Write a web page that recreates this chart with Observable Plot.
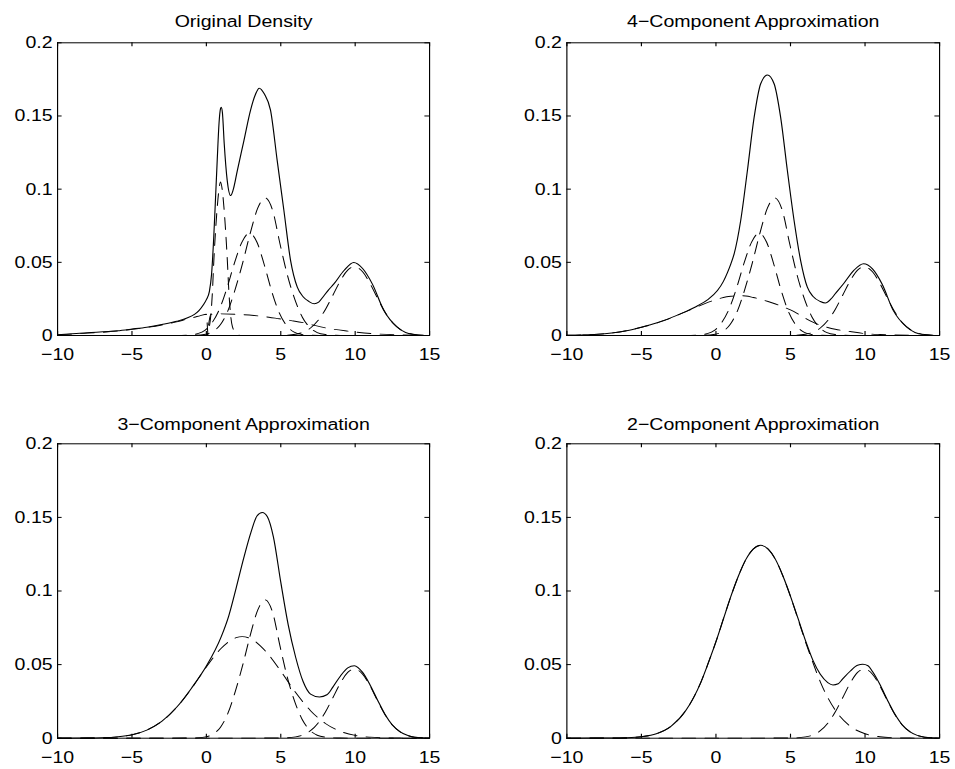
<!DOCTYPE html>
<html><head><meta charset="utf-8">
<script src="https://cdn.jsdelivr.net/npm/d3@7"></script>
<script src="https://cdn.jsdelivr.net/npm/@observablehq/plot@0.6"></script>
<style>
html,body{margin:0;padding:0;background:#fff;}
#fig{position:relative;width:955px;height:769px;overflow:hidden;background:#fff;}
.panel{position:absolute;}
.panel svg{display:block;transform-origin:0 0;transform:scaleX(1.15);}
</style></head><body><div id="fig"></div>
<script>
// ---------- axis ticks ----------
const xTicks = [-10, -5, 0, 5, 10, 15];
const yTicks = [0, 0.05, 0.1, 0.15, 0.2];
const titles = ["Original Density", "4\u2212Component Approximation", "3\u2212Component Approximation", "2\u2212Component Approximation"];

// ---------- Original Density ----------
const origSolid = [[-10,0.0005],[-8,0.0018],[-6,0.0032],[-5,0.0044],[-4,0.0057],[-3,0.0075],[-2,0.0097],[-1.3,0.012],[-0.8,0.0145],[-0.5,0.017],[-0.2,0.021],[0,0.0245],[0.2,0.03],[0.35,0.042],[0.5,0.068],[0.62,0.095],[0.73,0.12],[0.85,0.145],[0.95,0.155],[1.0,0.156],[1.08,0.152],[1.2,0.131],[1.4,0.106],[1.63,0.0956],[1.8,0.0995],[2.08,0.1127],[2.52,0.133],[2.97,0.154],[3.31,0.165],[3.55,0.169],[3.9,0.165],[4.31,0.154],[4.76,0.1195],[5.21,0.0854],[5.66,0.0512],[6.11,0.033],[6.5,0.0265],[6.9,0.0232],[7.25,0.0217],[7.55,0.0228],[7.85,0.0265],[8.2,0.031],[8.57,0.0353],[9.25,0.0444],[9.9,0.0499],[10.5,0.0458],[11.15,0.0353],[11.93,0.0171],[12.83,0.0057],[13.95,0.0006],[15,0]];
const leftTail = [[-10,0.0004],[-8,0.0016],[-6,0.003],[-5,0.0042],[-4,0.0055],[-3,0.0072],[-2,0.0093],[-1.3,0.0112],[-0.8,0.0125],[-0.4,0.0136],[0,0.0145],[0.12,0],[15,0]];
const rightTail = [[-10,0],[0,0],[0.3,0.0145],[1,0.0148],[2,0.0145],[3.2,0.0137],[4.2,0.0125],[4.9,0.0114],[5.7,0.0102],[6.5,0.0088],[7.1,0.0073],[8,0.0052],[9.5,0.003],[11.3,0.0012],[13,0.0004],[15,0.0001]];
const spike = [[-10,0],[0,0],[0.2,0.006],[0.3,0.014],[0.4,0.0285],[0.5,0.051],[0.62,0.072],[0.73,0.0876],[0.85,0.1],[0.955,0.105],[1.06,0.1],[1.18,0.0876],[1.29,0.072],[1.41,0.051],[1.52,0.0285],[1.62,0.015],[1.75,0.006],[2.0,0.0015],[2.3,0],[15,0]];
const comp3 = [[-10,0],[-2,0.0001],[-1.1,0.0004],[-0.6,0.0012],[-0.1,0.0035],[0.4,0.009],[0.9,0.0185],[1.4,0.033],[1.9,0.05],[2.4,0.064],[2.9,0.07],[3.4,0.0637],[3.9,0.048],[4.4,0.0299],[4.9,0.0154],[5.4,0.0066],[5.9,0.0023],[6.4,0.0007],[6.9,0.0002],[8,0],[15,0]];
const comp4 = [[-10,0],[-1,0.0001],[-0.05,0.0009],[0.45,0.0028],[0.95,0.0075],[1.45,0.017],[1.95,0.032],[2.45,0.05],[2.95,0.07],[3.45,0.087],[3.95,0.094],[4.45,0.0855],[4.95,0.0625],[5.45,0.041],[5.95,0.0245],[6.45,0.0125],[6.95,0.0055],[7.45,0.002],[8,0.0007],[9,0.0001],[15,0]];
const comp10 = [[-10,0],[5,0.0001],[6,0.0009],[6.5,0.0022],[7,0.0051],[7.5,0.0102],[8,0.0178],[8.5,0.0275],[9,0.0373],[9.5,0.0447],[9.95,0.047],[10.5,0.0435],[11,0.0355],[11.5,0.0255],[12,0.0161],[12.5,0.0089],[13,0.0044],[13.5,0.0019],[14,0.0007],[15,0.0001]];

// ---------- 4-Component Approximation ----------
const approx4Solid = [[-10,0.0002],[-9,0.0004],[-8,0.0008],[-7,0.0017],[-6,0.0033],[-5,0.0057],[-4,0.0085],[-3,0.0122],[-2,0.0165],[-1.2,0.0205],[-0.57,0.0244],[0.1,0.0307],[0.5,0.037],[0.77,0.043],[1.0,0.049],[1.22,0.0558],[1.66,0.0786],[2.11,0.1127],[2.56,0.149],[3.0,0.172],[3.45,0.178],[3.9,0.172],[4.34,0.149],[4.79,0.1127],[5.24,0.0786],[5.68,0.0512],[6.13,0.033],[6.5,0.0268],[7.0,0.0232],[7.34,0.0222],[7.7,0.0248],[8.0,0.0285],[8.57,0.0355],[9.25,0.0445],[9.9,0.049],[10.5,0.0455],[11.15,0.035],[11.9,0.017],[12.8,0.0057],[13.9,0.0006],[15,0]];
const broad4 = [[-10,0.0002],[-9,0.0004],[-8,0.0008],[-7,0.0017],[-6,0.0033],[-5,0.0056],[-4,0.0084],[-3,0.012],[-2.5,0.0143],[-2,0.0163],[-1.2,0.0198],[-0.5,0.0228],[0,0.0245],[0.5,0.026],[1,0.0268],[1.5,0.0272],[2,0.027],[2.5,0.026],[3,0.0247],[3.5,0.0232],[4,0.0215],[4.5,0.0196],[5,0.0175],[5.5,0.0148],[6,0.0118],[6.5,0.0091],[7,0.007],[7.5,0.0055],[8,0.0043],[9,0.0027],[10,0.0013],[11,0.0007],[12,0.0004],[13.5,0.0001],[15,0]];

// ---------- 3-Component Approximation ----------
const approx3Solid = [[-10,0],[-8,0.0001],[-7,0.0003],[-6,0.0009],[-5,0.0023],[-4,0.0055],[-3,0.0114],[-2,0.021],[-1,0.034],[0,0.049],[1,0.069],[1.5,0.083],[2,0.102],[2.5,0.122],[3,0.14],[3.4,0.151],[3.76,0.1534],[4.1,0.1505],[4.5,0.137],[5,0.106],[5.5,0.077],[6,0.055],[6.5,0.0385],[7,0.03],[7.6,0.028],[8.1,0.0295],[8.5,0.0347],[9,0.0421],[9.5,0.0478],[9.95,0.0493],[10.5,0.0447],[11,0.0362],[11.5,0.026],[12,0.0163],[12.5,0.009],[13,0.0045],[13.5,0.002],[14,0.0007],[15,0.0001]];
const broad3 = [[-10,0],[-8,0.0001],[-7,0.0003],[-6,0.0009],[-5,0.0023],[-4,0.0055],[-3,0.0114],[-2,0.0209],[-1,0.0338],[0,0.0484],[1,0.0611],[2,0.0683],[2.4,0.069],[3,0.0675],[4,0.0589],[5,0.0455],[6,0.031],[7,0.0187],[8,0.01],[9,0.0047],[10,0.0019],[11,0.0007],[12,0.0002],[13,0.0001],[15,0]];

// ---------- 2-Component Approximation ----------
const approx2Solid = [[-10,0],[-8,0.0001],[-7,0.0001],[-6,0.0003],[-5,0.001],[-4,0.003],[-3,0.0082],[-2,0.0191],[-1,0.0383],[-0.5,0.0515],[0,0.0656],[0.5,0.081],[1,0.0963],[1.5,0.11],[2,0.1213],[2.5,0.1285],[3,0.131],[3.5,0.1285],[4,0.1213],[4.5,0.11],[5,0.0964],[5.5,0.0815],[6,0.0665],[6.5,0.053],[7,0.0434],[7.5,0.0378],[7.85,0.0362],[8.2,0.037],[8.5,0.0403],[9,0.0455],[9.5,0.0496],[9.85,0.0502],[10.2,0.0492],[10.5,0.0453],[11,0.0365],[11.5,0.026],[12,0.0164],[12.5,0.009],[13,0.0045],[13.5,0.0019],[14,0.0007],[15,0.0001]];
const big2 = [[-10,0],[-8,0.0001],[-7,0.0001],[-6,0.0003],[-5,0.001],[-4,0.003],[-3,0.0082],[-2,0.0191],[-1,0.0383],[-0.5,0.0515],[0,0.0656],[0.5,0.081],[1,0.0963],[1.5,0.11],[2,0.1213],[2.5,0.1285],[3,0.131],[3.5,0.1285],[4,0.1213],[4.5,0.11],[5,0.0963],[5.5,0.081],[6,0.0656],[6.5,0.0515],[7,0.0383],[8,0.0191],[9,0.0082],[10,0.003],[11,0.001],[12,0.0003],[13,0.0001],[15,0]];

// ---------- layout ----------
const SX = 1.15; // horizontal stretch of the reference
const panels = [
  {title: titles[0], left: 0,   top: 0,   width: 416, height: 385, ml: 57/SX, mr: 416 - 429/SX, mt: 42.3, mb: 385 - 335, tdy: -16.3, solid: origSolid, dashed: [leftTail, rightTail, spike, comp3, comp4, comp10]},
  {title: titles[1], left: 478, top: 0,   width: 414, height: 385, ml: 88.3/SX, mr: 414 - 461/SX, mt: 42.3, mb: 385 - 335, tdy: -16.3, solid: approx4Solid, dashed: [broad4, comp3, comp4, comp10]},
  {title: titles[2], left: 0,   top: 385, width: 416, height: 384, ml: 57/SX, mr: 416 - 429/SX, mt: 58.3, mb: 384 - 352.7, tdy: -14.3, solid: approx3Solid, dashed: [broad3, comp4, comp10]},
  {title: titles[3], left: 478, top: 385, width: 414, height: 384, ml: 88.3/SX, mr: 414 - 461/SX, mt: 58.3, mb: 384 - 352.7, tdy: -14.3, solid: approx2Solid, dashed: [big2, comp10]}
];

const fig = document.getElementById("fig");
for (const p of panels) {
  const fw = p.width - p.ml - p.mr;
  const fh = p.height - p.mt - p.mb;
  const marks = [];
  for (const d of p.dashed) {
    marks.push(Plot.line(d, {x: v => v[0], y: v => v[1], curve: "monotone-x", stroke: "black", strokeWidth: 0.9, strokeDasharray: "12,8"}));
  }
  marks.push(Plot.line(p.solid, {x: v => v[0], y: v => v[1], curve: "monotone-x", stroke: "black", strokeWidth: 1}));
  marks.push(Plot.frame({stroke: "black", strokeWidth: 1}));
  marks.push(Plot.tickX(xTicks, {x: v => v, insetTop: fh - 4, stroke: "black"}));
  marks.push(Plot.tickX(xTicks, {x: v => v, insetBottom: fh - 4, stroke: "black"}));
  marks.push(Plot.tickY(yTicks, {y: v => v, insetRight: fw - 4, stroke: "black"}));
  marks.push(Plot.tickY(yTicks, {y: v => v, insetLeft: fw - 4, stroke: "black"}));
  marks.push(Plot.axisX({ticks: xTicks, tickSize: 0, tickPadding: 12.8}));
  marks.push(Plot.axisY({ticks: yTicks, tickSize: 0, tickPadding: 4.3, tickFormat: v => String(v)}));
  marks.push(Plot.text([p.title], {frameAnchor: "top", lineAnchor: "bottom", dy: p.tdy}));
  const svg = Plot.plot({
    width: p.width, height: p.height,
    marginLeft: p.ml, marginRight: p.mr, marginTop: p.mt, marginBottom: p.mb,
    x: {domain: [-10, 15]},
    y: {domain: [0, 0.2]},
    style: {fontFamily: "'Liberation Sans', Arial, Helvetica, sans-serif", fontSize: "17px", color: "black", background: "white", overflow: "visible"},
    marks
  });
  const div = document.createElement("div");
  div.className = "panel";
  div.style.left = p.left + "px";
  div.style.top = p.top + "px";
  div.appendChild(svg);
  fig.appendChild(div);
}
</script></body></html>
